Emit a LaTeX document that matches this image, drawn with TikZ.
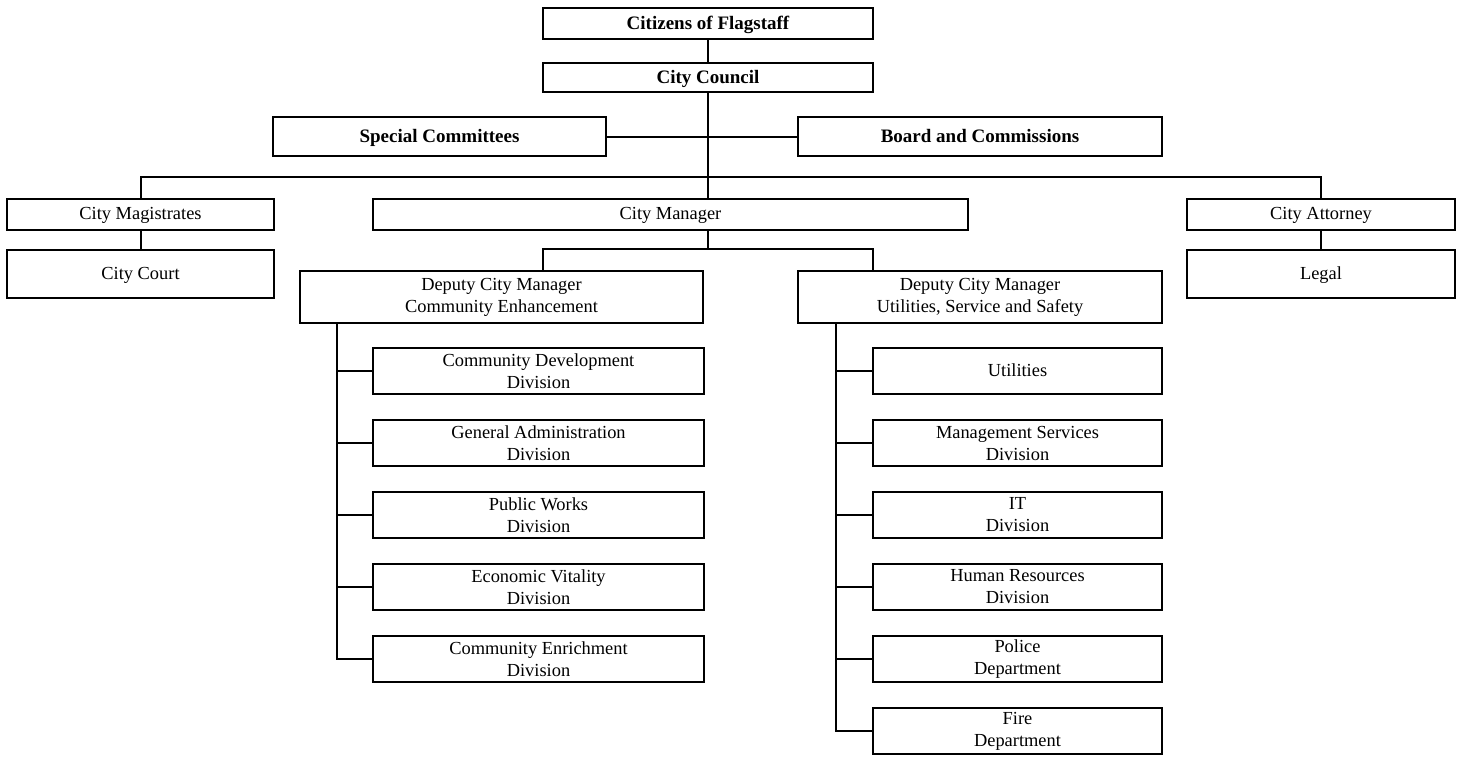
\documentclass[tikz,border=0pt]{standalone}
\usepackage{fontspec}
\setmainfont{Liberation Serif}
\tikzset{
  unit/.style={draw, line width=2pt, inner sep=0pt, align=center,
    font=\fontsize{18.4}{22}\selectfont},
  single/.style={text height=13pt, text depth=3pt},
  head/.style={unit, single, text height=14pt, text depth=2pt, font=\fontsize{19}{22}\selectfont\bfseries},
  link/.style={line width=2pt},
}
\begin{document}
\begin{tikzpicture}[x=1pt,y=-1pt]
\useasboundingbox (0,0) rectangle (1466,756);
% top of the chart
\node[head, minimum width=330pt, minimum height=31pt] (citizens) at (708,23) {Citizens of Flagstaff};
\node[head, minimum width=330pt, minimum height=29pt] (council) at (708,77.5) {City Council};
\node[head, minimum width=333pt, minimum height=39pt] (committees) at (439.5,136.5) {Special Committees};
\node[head, minimum width=364pt, minimum height=39pt] (boards) at (980,136.5) {Board and Commissions};
% second row
\node[unit, single, minimum width=267pt, minimum height=31pt] (magistrates) at (140.5,214) {City Magistrates};
\node[unit, single, minimum width=595pt, minimum height=31pt] (manager) at (670.5,214) {City Manager};
\node[unit, single, minimum width=268pt, minimum height=31pt] (attorney) at (1321,214) {City Attorney};
\node[unit, single, minimum width=267pt, minimum height=48pt] (court) at (140.5,274) {City Court};
\node[unit, single, minimum width=268pt, minimum height=48pt] (legal) at (1321,274) {Legal};
% deputies
\node[unit, minimum width=403pt, minimum height=52pt] (dcmce) at (501.5,297) {Deputy City Manager\\Community Enhancement};
\node[unit, minimum width=364pt, minimum height=52pt] (dcmuss) at (980,297) {Deputy City Manager\\Utilities, Service and Safety};
% community enhancement divisions
\node[unit, minimum width=331pt, minimum height=46pt] (cdd) at (538.5,371) {Community Development\\Division};
\node[unit, minimum width=331pt, minimum height=46pt] (gad) at (538.5,443) {General Administration\\Division};
\node[unit, minimum width=331pt, minimum height=46pt] (pwd) at (538.5,515) {Public Works\\Division};
\node[unit, minimum width=331pt, minimum height=46pt] (evd) at (538.5,587) {Economic Vitality\\Division};
\node[unit, minimum width=331pt, minimum height=46pt] (ced) at (538.5,659) {Community Enrichment\\Division};
% utilities, service and safety divisions
\node[unit, single, minimum width=289pt, minimum height=46pt] (util) at (1017.5,371) {Utilities};
\node[unit, minimum width=289pt, minimum height=46pt] (msd) at (1017.5,443) {Management Services\\Division};
\node[unit, minimum width=289pt, minimum height=46pt] (itd) at (1017.5,515) {IT\\Division};
\node[unit, minimum width=289pt, minimum height=46pt] (hrd) at (1017.5,587) {Human Resources\\Division};
\node[unit, minimum width=289pt, minimum height=46pt] (pol) at (1017.5,659) {Police\\Department};
\node[unit, minimum width=289pt, minimum height=46pt] (fire) at (1017.5,731) {Fire\\Department};
% connectors
\coordinate (bus) at (703,177);
\coordinate (dl) at (543,249);
\coordinate (dr) at (873,249);
\coordinate (lspine) at (337,0);
\coordinate (rspine) at (836,0);
\draw[link] (citizens) -- (council);
\draw[link] (council.south) -- (council.south |- manager.north);
\draw[link] (committees) -- (boards);
\draw[link] (magistrates.north) |- (bus) -| (attorney.north);
\draw[link] (magistrates) -- (court);
\draw[link] (attorney) -- (legal);
\draw[link] (council.south |- manager.south) -- (council.south |- dl);
\draw[link] (dcmce.north -| dl) -- (dl) -- (dr) -- (dcmuss.north -| dr);
\draw[link] (dcmce.south -| lspine) |- (ced.west);
\foreach \n in {cdd,gad,pwd,evd}
  \draw[link] (lspine |- \n.west) -- (\n.west);
\draw[link] (dcmuss.south -| rspine) |- (fire.west);
\foreach \n in {util,msd,itd,hrd,pol}
  \draw[link] (rspine |- \n.west) -- (\n.west);
\end{tikzpicture}
\end{document}
